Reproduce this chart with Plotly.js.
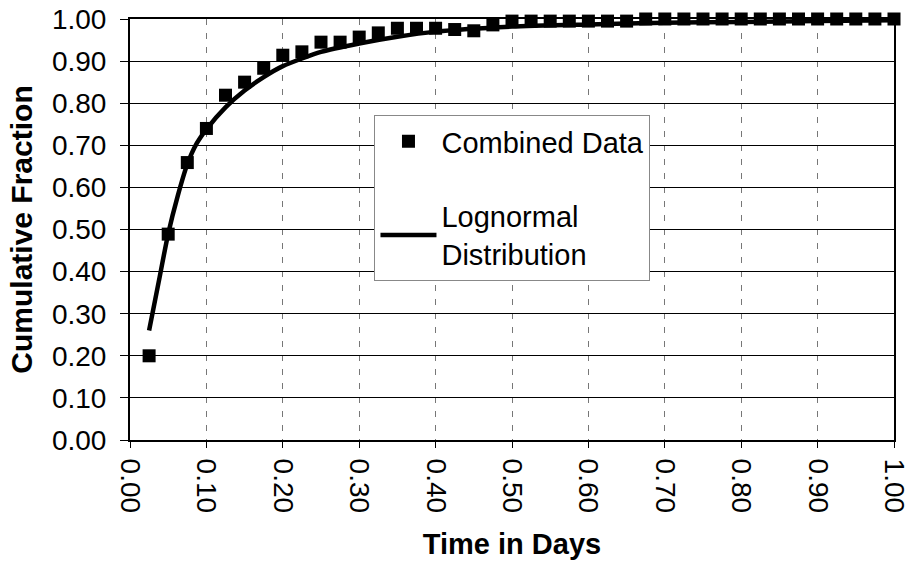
<!DOCTYPE html>
<html>
<head>
<meta charset="utf-8">
<script src="https://cdn.plot.ly/plotly-3.0.1.min.js"></script>
<style>
  html, body { margin: 0; padding: 0; background: #fff; }
  #chart { width: 910px; height: 567px; }
</style>
</head>
<body>
<div id="chart"></div>
<script>
// Observed data (Combined Data), time in days
const dataTime = [0.025, 0.05, 0.075, 0.10, 0.125, 0.15, 0.175, 0.20, 0.225, 0.25,
                  0.275, 0.30, 0.325, 0.35, 0.375, 0.40, 0.425, 0.45, 0.475, 0.50,
                  0.525, 0.55, 0.575, 0.60, 0.625, 0.65, 0.675, 0.70, 0.725, 0.75,
                  0.775, 0.80, 0.825, 0.85, 0.875, 0.90, 0.925, 0.95, 0.975, 1.00];
const dataFraction = [0.20, 0.489, 0.659, 0.740, 0.819, 0.850, 0.883, 0.914, 0.922, 0.945,
                      0.945, 0.957, 0.967, 0.978, 0.978, 0.978, 0.975, 0.972, 0.986, 0.995,
                      0.995, 0.995, 0.995, 0.995, 0.995, 0.995, 1.00, 1.00, 1.00, 1.00,
                      1.00, 1.00, 1.00, 1.00, 1.00, 1.00, 1.00, 1.00, 1.00, 1.00];

// Lognormal distribution curve
const curveTime = [0.025, 0.0375, 0.05, 0.0625, 0.075, 0.0875, 0.10, 0.125, 0.15, 0.175,
                   0.20, 0.25, 0.30, 0.35, 0.40, 0.50, 0.60, 0.70, 0.80, 0.90, 1.00];
const curveFraction = [0.26, 0.375, 0.49, 0.58, 0.655, 0.705, 0.738, 0.79, 0.83, 0.862,
                       0.888, 0.922, 0.942, 0.958, 0.970, 0.982, 0.987, 0.991, 0.993, 0.995, 0.997];

const xTickVals = [0, 0.1, 0.2, 0.3, 0.4, 0.5, 0.6, 0.7, 0.8, 0.9, 1.0];
const xTickText = ["0.00", "0.10", "0.20", "0.30", "0.40", "0.50", "0.60", "0.70", "0.80", "0.90", "1.00"];
const yTickVals = [0, 0.1, 0.2, 0.3, 0.4, 0.5, 0.6, 0.7, 0.8, 0.9, 1.0];
const yTickText = ["0.00", "0.10", "0.20", "0.30", "0.40", "0.50", "0.60", "0.70", "0.80", "0.90", "1.00"];

const FONT = "Liberation Sans, Arial, Helvetica, sans-serif";

const traces = [
  {
    x: curveTime, y: curveFraction,
    type: "scatter", mode: "lines",
    name: "Lognormal<br>Distribution",
    line: { color: "#000", width: 4.5, shape: "spline", smoothing: 0.6 },
    legendgroup: "b", legendrank: 2,
    cliponaxis: false,
    hoverinfo: "skip"
  },
  {
    x: dataTime, y: dataFraction,
    type: "scatter", mode: "markers",
    name: "Combined Data",
    marker: { symbol: "square", size: 13, color: "#000" },
    legendgroup: "a", legendrank: 1,
    cliponaxis: false
  }
];

const layout = {
  width: 910, height: 567,
  paper_bgcolor: "#fff", plot_bgcolor: "#fff",
  margin: { l: 130, r: 16, t: 19, b: 127 },
  font: { family: FONT, color: "#000", size: 28 },
  showlegend: true,
  legend: {
    x: 0.32, y: 0.772, xanchor: "left", yanchor: "top",
    bgcolor: "#fff", bordercolor: "#888", borderwidth: 1,
    font: { family: FONT, size: 29, color: "#000" },
    tracegroupgap: 34,
    itemwidth: 56
  },
  xaxis: {
    range: [0, 1], tickvals: xTickVals, ticktext: xTickText,
    tickangle: 90,
    tickfont: { family: FONT, size: 28 },
    ticklabeloverflow: "allow",
    ticklabelstandoff: 5,
    ticks: "outside", ticklen: 6, tickcolor: "#000",
    showline: true, linecolor: "#000", linewidth: 2, mirror: true,
    showgrid: true, gridcolor: "#777", gridwidth: 1, griddash: "6px,8px",
    zeroline: false,
    automargin: false,
    title: { text: "<b>Time in Days</b>", font: { family: FONT, size: 29 }, standoff: 22 }
  },
  yaxis: {
    range: [0, 1], tickvals: yTickVals, ticktext: yTickText,
    tickfont: { family: FONT, size: 28 },
    ticklabeloverflow: "allow",
    ticklabelstandoff: 8,
    ticks: "outside", ticklen: 8, tickcolor: "#000",
    showline: true, linecolor: "#000", linewidth: 2, mirror: true,
    showgrid: true, gridcolor: "#000", gridwidth: 1,
    zeroline: false,
    automargin: false,
    title: { text: "<b>Cumulative Fraction</b>", font: { family: FONT, size: 30 }, standoff: 10 }
  }
};

Plotly.newPlot("chart", traces, layout, { displayModeBar: false, staticPlot: true });
</script>
</body>
</html>
